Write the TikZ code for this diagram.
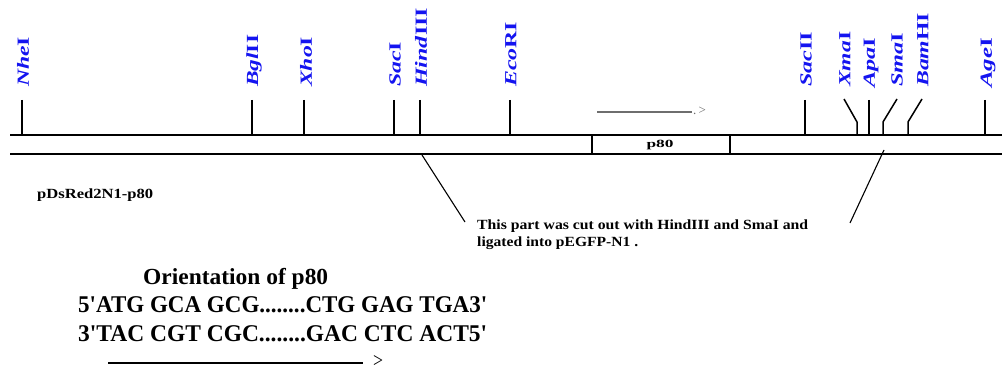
\documentclass[tikz,border=0pt]{standalone}
\usepackage{fontspec}
\setmainfont{Liberation Serif}
\usepackage{graphicx}
\definecolor{enzblue}{RGB}{20,20,240}
\definecolor{arrgray}{RGB}{110,110,110}
\newcommand\enzlbl[3]{\resizebox{#1pt}{\height}{\fontsize{17}{17}\selectfont\bfseries\textit{#2}#3}}
\newcommand\fitw[3]{\resizebox{#1pt}{\height}{\fontsize{#2}{#2}\selectfont\bfseries #3}}
\newcommand\sq{\textquotesingle}
\tikzset{
  enzl/.style={rotate=90, anchor=west, inner sep=0pt, text=enzblue},
  mainline/.style={line width=2.3pt, black},
  tick/.style={line width=1.5pt, black},
  divider/.style={line width=2.4pt, black},
  callout/.style={line width=1.1pt, black},
  txt/.style={inner sep=0pt, anchor=base west, text=black},
}
\begin{document}
\begin{tikzpicture}[x=1pt,y=-1pt]
\useasboundingbox (0,0) rectangle (1002,371);
% main strands
\coordinate (tl) at (10,135); \coordinate (tr) at (1002,135);
\coordinate (bl) at (10,154); \coordinate (br) at (1002,154);
\draw[mainline] (tl) -- (tr);
\draw[mainline] (bl) -- (br);
% p80 box dividers
\coordinate (d1t) at (592,135); \coordinate (d1b) at (592,154);
\coordinate (d2t) at (730,135); \coordinate (d2b) at (730,154);
\draw[divider] (d1t) -- (d1b);
\draw[divider] (d2t) -- (d2b);
\node[inner sep=0pt] (p80) at (660,145) {\fitw{27}{11}{p80}};
% gene direction arrow
\coordinate (ga1) at (597,112); \coordinate (ga2) at (692,112);
\draw[arrgray, line width=1.1pt] (ga1) -- (ga2);
\node[inner sep=0pt, anchor=base west, text=arrgray] (gahead) at (693,115) {\fontsize{13}{13}\selectfont .\,>};
% simple ticks
\foreach \n/\x in {nhe/22, bgl/252, xho/304, sac/394, hind/420, eco/510, sacii/805, apa/869, age/985}{
  \coordinate (\n t) at (\x,100); \coordinate (\n b) at (\x,135);
  \draw[tick] (\n t) -- (\n b);
}
% bent ticks
\coordinate (xmat) at (844,99); \coordinate (xmam) at (857,122); \coordinate (xmab) at (857,135);
\draw[tick] (xmat) -- (xmam) -- (xmab);
\coordinate (smat) at (897,99); \coordinate (smam) at (883,122); \coordinate (smab) at (883,135);
\draw[tick] (smat) -- (smam) -- (smab);
\coordinate (bamt) at (922,99); \coordinate (bamm) at (908,122); \coordinate (bamb) at (908,135);
\draw[tick] (bamt) -- (bamm) -- (bamb);
% enzyme labels
\node[enzl] (lnhe) at (23,87) {\enzlbl{50}{Nhe}{I}};
\node[enzl] (lbgl) at (254,87) {\enzlbl{52}{Bgl}{II}};
\node[enzl] (lxho) at (306,87) {\enzlbl{50}{Xho}{I}};
\node[enzl] (lsac) at (395,87) {\enzlbl{45}{Sac}{I}};
\node[enzl] (lhind) at (421,87) {\enzlbl{79}{Hind}{III}};
\node[enzl] (leco) at (511,87) {\enzlbl{65}{Eco}{RI}};
\node[enzl] (lsacii) at (806,87) {\enzlbl{55}{Sac}{II}};
\node[enzl] (lxma) at (845,87) {\enzlbl{55}{Xma}{I}};
\node[enzl] (lapa) at (871,88) {\enzlbl{50}{Apa}{I}};
\node[enzl] (lsma) at (897,87) {\enzlbl{54}{Sma}{I}};
\node[enzl] (lbam) at (923,87) {\enzlbl{74}{Bam}{HI}};
\node[enzl] (lage) at (988,88) {\enzlbl{50}{Age}{I}};
% plasmid name
\node[txt] (pname) at (37,199) {\fitw{116}{14}{pDsRed2N1-p80}};
% callout
\node[txt] (note1) at (477,230) {\fitw{331}{14}{This part was cut out with HindIII and SmaI and}};
\node[txt] (note2) at (477,247) {\fitw{161}{14}{ligated into pEGFP-N1 .}};
\coordinate (c1s) at (422,155); \coordinate (c1e) at (465,222);
\coordinate (c2s) at (884,150); \coordinate (c2e) at (850,223);
\draw[callout] (c1s) -- (c1e);
\draw[callout] (c2s) -- (c2e);
% orientation
\node[txt] (orient) at (143,285) {\fitw{185}{23}{Orientation of p80}};
\node[txt] (seq1) at (78,313) {\fitw{409}{24}{5\sq ATG GCA GCG........CTG GAG TGA3\sq}};
\node[txt] (seq2) at (78,341.5) {\fitw{409}{24}{3\sq TAC CGT CGC........GAC CTC ACT5\sq}};
\coordinate (oa1) at (108,363); \coordinate (oa2) at (363,363);
\draw[line width=1.4pt] (oa1) -- (oa2);
\node[inner sep=0pt] (oahead) at (378,362) {\resizebox{10pt}{12pt}{>}};
\end{tikzpicture}
\end{document}
